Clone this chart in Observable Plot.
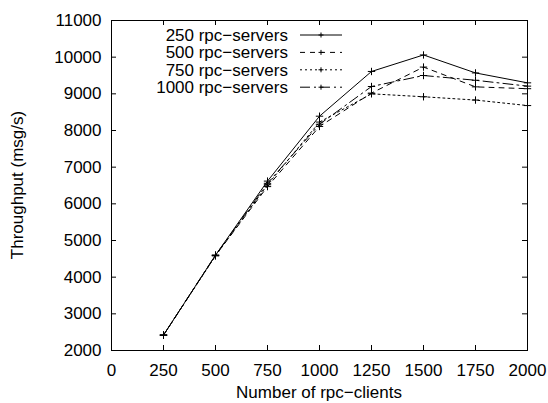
<!DOCTYPE html>
<html>
<head>
<meta charset="utf-8">
<script src="https://cdn.jsdelivr.net/npm/d3@7"></script>
<script src="https://cdn.jsdelivr.net/npm/@observablehq/plot@0.6"></script>
<style>
  html, body { margin: 0; padding: 0; background: #fff; }
  #chart svg { font-family: "Liberation Sans", Arial, Helvetica, sans-serif; }
</style>
</head>
<body>
<div id="chart"></div>
<script>
const clients = [250, 500, 750, 1000, 1250, 1500, 1750, 2000];
const servers250 = [2420, 4600, 6620, 8390, 9610, 10060, 9570, 9300];
const servers500 = [2420, 4590, 6470, 8110, 9020, 9730, 9190, 9140];
const servers750 = [2420, 4580, 6520, 8230, 9000, 8920, 8830, 8680];
const servers1000 = [2420, 4600, 6560, 8170, 9200, 9500, 9370, 9210];
const seriesNames = ["250 rpc\u2212servers", "500 rpc\u2212servers", "750 rpc\u2212servers", "1000 rpc\u2212servers"];
const xTicks = [0, 250, 500, 750, 1000, 1250, 1500, 1750, 2000];
const yTicks = [2000, 3000, 4000, 5000, 6000, 7000, 8000, 9000, 10000, 11000];
const dashes = [null, "5,5", "2,3", "10,4,2,4"];

const allSeries = [servers250, servers500, servers750, servers1000];
const data = allSeries.flatMap((vals, i) =>
  clients.map((c, j) => ({series: seriesNames[i], idx: i, clients: c, value: vals[j]})));

const W = 548, H = 403;
const mL = 111, mR = 21, mT = 20, mB = 53;
const innerH = H - mT - mB, innerW = W - mL - mR;
const FS = 17;

const lineMarks = allSeries.map((vals, i) =>
  Plot.line(data.filter(d => d.idx === i), {
    x: "clients", y: "value", stroke: "black", strokeWidth: 1,
    strokeDasharray: dashes[i] || undefined
  }));

const chart = Plot.plot({
  width: W, height: H,
  marginLeft: mL, marginRight: mR, marginTop: mT, marginBottom: mB,
  style: {fontSize: FS + "px", fontFamily: "Liberation Sans, Arial, sans-serif", color: "black"},
  x: {domain: [0, 2000]},
  y: {domain: [2000, 11000]},
  marks: [
    Plot.frame({stroke: "black", strokeWidth: 1}),
    Plot.tickX(xTicks, {x: d => d, insetTop: innerH - 5, stroke: "black"}),
    Plot.tickX(xTicks, {x: d => d, insetBottom: innerH - 5, stroke: "black"}),
    Plot.tickY(yTicks, {y: d => d, insetRight: innerW - 5, stroke: "black"}),
    Plot.tickY(yTicks, {y: d => d, insetLeft: innerW - 5, stroke: "black"}),
    Plot.axisX(xTicks, {tickSize: 0, tickPadding: 13, label: null, fontSize: FS, tickFormat: d3.format("d")}),
    Plot.axisY(yTicks, {tickSize: 0, tickPadding: 10, label: null, fontSize: FS, tickFormat: d3.format("d")}),
    ...lineMarks,
    Plot.dot(data, {x: "clients", y: "value", symbol: "plus", r: 2.5, stroke: "black", strokeWidth: 1})
  ]
});

const svg = d3.select(chart);
// axis titles
svg.append("text")
  .attr("x", mL + innerW / 2).attr("y", H - 5)
  .attr("text-anchor", "middle").attr("font-size", FS).attr("fill", "black")
  .text("Number of rpc\u2212clients");
svg.append("text")
  .attr("transform", `translate(23,${mT + innerH / 2}) rotate(-90)`)
  .attr("text-anchor", "middle").attr("font-size", FS).attr("fill", "black")
  .text("Throughput (msg/s)");

// legend
const lg = svg.append("g");
seriesNames.forEach((name, i) => {
  const y = 35 + i * 17.4;
  lg.append("text").attr("x", 288).attr("y", y).attr("dy", "0.35em")
    .attr("text-anchor", "end").attr("font-size", FS).attr("fill", "black").text(name);
  lg.append("line").attr("x1", 300).attr("x2", 342).attr("y1", y).attr("y2", y)
    .attr("stroke", "black").attr("stroke-width", 1)
    .attr("stroke-dasharray", dashes[i] || null);
  lg.append("path").attr("d", `M318.5,${y}h5M321,${y - 2.5}v5`)
    .attr("stroke", "black").attr("stroke-width", 1);
});

document.getElementById("chart").appendChild(chart);
</script>
</body>
</html>
